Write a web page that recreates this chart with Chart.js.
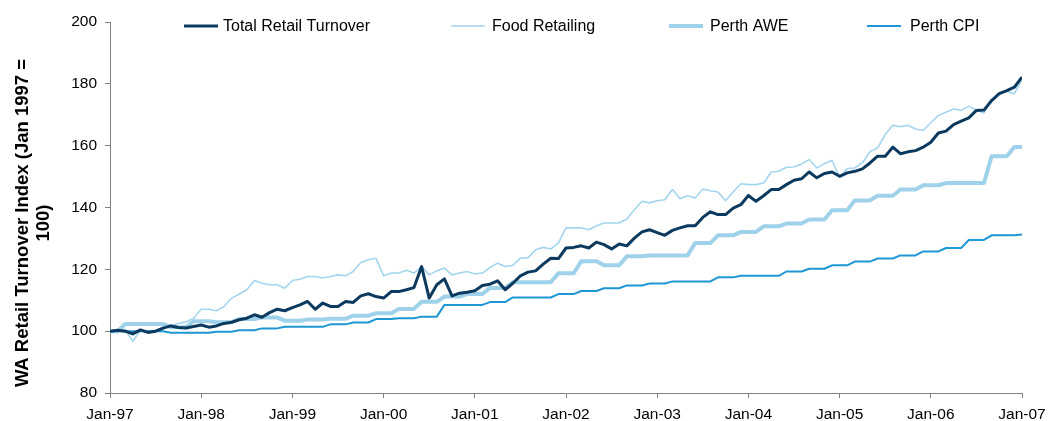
<!DOCTYPE html>
<html>
<head>
<meta charset="utf-8">
<style>
html,body{margin:0;padding:0;background:#fff;}
#wrap{position:relative;width:1049px;height:421px;}
</style>
<script src="https://cdn.jsdelivr.net/npm/chart.js@4.4.0/dist/chart.umd.min.js"></script>
</head>
<body>
<div id="wrap"><canvas id="c" width="1049" height="421"></canvas></div>
<script>
const tickLabels = ['Jan-97','Jan-98','Jan-99','Jan-00','Jan-01','Jan-02','Jan-03','Jan-04','Jan-05','Jan-06','Jan-07'];
const seriesNames = ['Total Retail Turnover','Food Retailing','Perth AWE','Perth CPI'];
const yTitleLines = ['WA Retail Turnover Index (Jan 1997 =', '100)'];

const totalRetail = [
100.0,100.3,100.0,99.1,100.4,99.6,100.0,101.0,101.7,101.2,101.0,101.5,
102.0,101.3,101.7,102.5,102.9,103.7,104.2,105.3,104.5,106.0,107.1,106.6,
107.6,108.5,109.6,107.1,109.1,108.0,108.0,109.6,109.3,111.4,112.1,111.2,
110.7,112.8,112.8,113.4,114.1,120.9,110.7,115.0,116.9,111.4,112.3,112.6,
113.1,114.8,115.2,116.3,113.4,115.5,117.9,119.1,119.5,121.7,123.6,123.5,
126.9,127.1,127.6,126.9,128.8,128.0,126.6,128.2,127.6,130.1,132.1,132.8,
131.9,131.0,132.6,133.4,134.1,134.1,136.8,138.6,137.7,137.7,139.8,140.9,
143.9,142.0,143.8,145.8,145.8,147.4,148.8,149.3,151.5,149.6,151.0,151.5,
150.1,151.2,151.7,152.5,154.4,156.6,156.6,159.5,157.4,158.0,158.4,159.5,
161.1,164.1,164.7,166.8,167.9,169.0,171.4,171.5,174.6,176.8,177.8,178.9,
182.2];

const foodRetailing = [
100.0,100.2,100.5,96.7,100.3,99.9,100.3,101.3,101.9,102.5,103.0,104.2,
107.1,107.1,106.6,108.0,110.7,112.0,113.4,116.4,115.5,115.0,115.0,113.9,
116.4,116.8,117.7,117.7,117.2,117.7,118.2,117.9,119.3,122.2,123.1,123.6,
117.9,118.8,118.8,119.7,118.8,120.9,118.2,119.5,120.4,118.2,118.8,119.3,
118.5,118.8,120.6,122.0,120.9,121.3,123.6,123.8,126.3,127.1,126.6,128.5,
133.4,133.4,133.4,132.8,134.1,135.0,135.0,135.0,136.3,139.3,142.0,141.5,
142.2,142.5,145.8,142.8,143.8,143.1,146.0,145.4,145.0,142.2,145.0,147.7,
147.4,147.4,147.9,151.5,151.7,153.0,153.1,154.1,155.5,152.8,154.2,155.2,
149.8,152.6,152.8,154.5,158.0,159.3,163.6,166.6,166.1,166.6,165.4,164.9,
167.4,169.8,170.8,171.9,171.4,172.8,171.5,170.6,174.9,176.8,177.6,176.8,
181.4];

const perthAWE = [
100.0,100.0,102.3,102.3,102.3,102.3,102.3,102.3,101.3,101.3,101.3,103.2,
103.2,103.2,102.9,102.9,102.9,103.9,103.9,103.9,104.4,104.4,104.4,103.4,
103.4,103.4,103.8,103.8,103.8,104.0,104.0,104.0,105.0,105.0,105.0,105.8,
105.8,105.8,107.2,107.2,107.2,109.5,109.5,109.5,111.2,111.2,111.2,112.0,
112.0,112.0,114.0,114.0,114.0,115.8,115.8,115.8,115.8,115.8,115.8,118.7,
118.7,118.7,122.6,122.6,122.6,121.3,121.3,121.3,124.2,124.2,124.2,124.5,
124.5,124.5,124.5,124.5,124.5,128.5,128.5,128.5,131.0,131.0,131.0,132.1,
132.1,132.1,133.9,133.9,133.9,134.8,134.8,134.8,136.1,136.1,136.1,139.1,
139.1,139.1,142.3,142.3,142.3,143.8,143.8,143.8,145.8,145.8,145.8,147.2,
147.2,147.2,147.9,147.9,147.9,147.9,147.9,147.9,156.6,156.6,156.6,159.6,
159.6];

const perthCPI = [
100.0,100.0,100.0,100.0,100.0,100.0,100.0,100.0,99.5,99.5,99.5,99.5,
99.5,99.5,99.8,99.8,99.8,100.3,100.3,100.3,100.9,100.9,100.9,101.4,
101.4,101.4,101.4,101.4,101.4,102.2,102.2,102.2,102.8,102.8,102.8,103.9,
103.9,103.9,104.2,104.2,104.2,104.7,104.7,104.7,108.5,108.5,108.5,108.5,
108.5,108.5,109.4,109.4,109.4,110.9,110.9,110.9,110.9,110.9,110.9,112.0,
112.0,112.0,113.0,113.0,113.0,113.9,113.9,113.9,114.8,114.8,114.8,115.4,
115.4,115.4,116.1,116.1,116.1,116.1,116.1,116.1,117.4,117.4,117.4,117.9,
117.9,117.9,117.9,117.9,117.9,119.3,119.3,119.3,120.2,120.2,120.2,121.3,
121.3,121.3,122.5,122.5,122.5,123.5,123.5,123.5,124.5,124.5,124.5,125.8,
125.8,125.8,126.9,126.9,126.9,129.5,129.5,129.5,131.0,131.0,131.0,131.0,
131.3];

const seriesValues = [totalRetail, foodRetailing, perthAWE, perthCPI];
const seriesStyles = [
  {color:'#0C3A5F', width:3,   order:0},
  {color:'#A3D5EE', width:1.6, order:2},
  {color:'#9FD1EA', width:4,   order:3},
  {color:'#1E97D4', width:2,   order:1}
];

function toPoints(arr){ return arr.map((v,i)=>({x:i, y:v})); }

const datasets = seriesNames.map((name,i)=>({
  label: name,
  data: toPoints(seriesValues[i]),
  borderColor: seriesStyles[i].color,
  backgroundColor: seriesStyles[i].color,
  borderWidth: seriesStyles[i].width,
  pointRadius: 0,
  pointHoverRadius: 0,
  tension: 0,
  fill: false,
  order: seriesStyles[i].order,
  borderJoinStyle: 'round'
}));

const FONT = '"Liberation Sans", Arial, sans-serif';
const legendLayout = [
  {lineX:184, textX:223},
  {lineX:451, textX:492},
  {lineX:669, textX:710},
  {lineX:867, textX:910}
];

const overlayPlugin = {
  id: 'overlay',
  afterDraw(chart){
    const ctx = chart.ctx;
    ctx.save();
    ctx.font = '16px ' + FONT;
    ctx.textBaseline = 'middle';
    ctx.textAlign = 'left';
    const ly = 26;
    chart.data.datasets.forEach((ds,i)=>{
      const L = legendLayout[i];
      ctx.strokeStyle = ds.borderColor;
      ctx.lineWidth = ds.borderWidth;
      ctx.beginPath();
      ctx.moveTo(L.lineX, ly);
      ctx.lineTo(L.lineX + 34, ly);
      ctx.stroke();
      ctx.fillStyle = '#000';
      ctx.fillText(ds.label, L.textX, ly + 1);
    });
    ctx.font = 'bold 18.5px ' + FONT;
    ctx.textAlign = 'center';
    ctx.textBaseline = 'middle';
    ctx.fillStyle = '#000';
    ctx.translate(0, 223);
    ctx.rotate(-Math.PI/2);
    ctx.fillText(yTitleLines[0], 0, 23);
    ctx.fillText(yTitleLines[1], 0, 44);
    ctx.restore();
  }
};

new Chart(document.getElementById('c'), {
  type: 'line',
  data: { datasets },
  plugins: [overlayPlugin],
  options: {
    responsive: false,
    animation: false,
    devicePixelRatio: 1,
    layout: { padding: { top: 22, right: 27, left: 0, bottom: 0 } },
    plugins: { legend: { display: false }, tooltip: { enabled: false } },
    scales: {
      x: {
        type: 'linear',
        min: 0, max: 120,
        afterFit: s => { s.height = 28; s.paddingLeft = 0; s.paddingRight = 0; },
        ticks: {
          stepSize: 12,
          autoSkip: false,
          maxRotation: 0,
          padding: 7,
          color: '#000',
          font: { family: FONT, size: 15.5 },
          callback: v => tickLabels[Math.round(v/12)]
        },
        grid: { drawOnChartArea: false, drawTicks: true, tickLength: 5, color: '#808080', lineWidth: 1 },
        border: { display: true, color: '#808080', width: 1 }
      },
      y: {
        min: 80, max: 200,
        afterFit: s => { s.width = 110; s.paddingTop = 0; s.paddingBottom = 0; },
        ticks: {
          stepSize: 20,
          padding: 8,
          color: '#000',
          font: { family: FONT, size: 15.5 }
        },
        grid: { drawOnChartArea: false, drawTicks: true, tickLength: 5, color: '#808080', lineWidth: 1 },
        border: { display: true, color: '#808080', width: 1 }
      }
    }
  }
});
</script>
</body>
</html>
